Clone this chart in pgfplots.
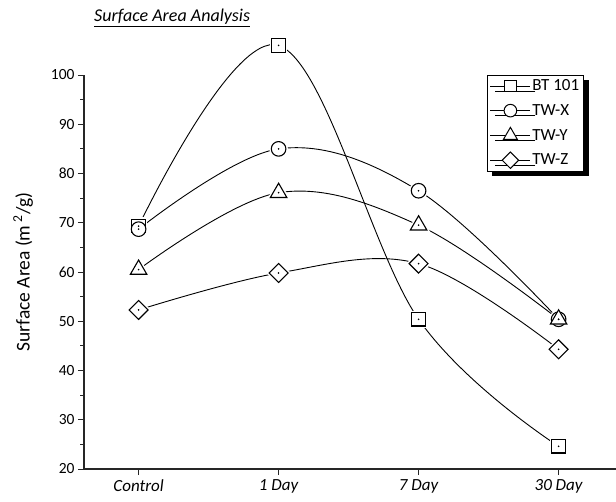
\documentclass[border=0pt]{standalone}
\usepackage{pgfplots}
\pgfplotsset{compat=1.18}
\usepackage{pgfplotstable}
\usepackage{fontspec}
\setmainfont{Carlito}
\usetikzlibrary{shadows}

\pgfplotstableread{
x y
0 69.3
1 106.0
2 50.4
3 24.6
}\btone
\pgfplotstableread{
x y
0 68.7
1 85.0
2 76.5
3 50.4
}\twx
\pgfplotstableread{
x y
0 60.5
1 76.1
2 69.5
3 50.4
}\twy
\pgfplotstableread{
x y
0 52.3
1 59.8
2 61.7
3 44.3
}\twz

\begin{document}
\begin{tikzpicture}[x=1pt,y=1pt]
\useasboundingbox (0,0) rectangle (616,501);
\begin{axis}[
  at={(84pt,32pt)}, anchor=south west,
  scale only axis, width=532pt, height=394pt,
  xmin=-0.39, xmax=3.41, ymin=20, ymax=100,
  clip=false,
  axis x line*=bottom, axis y line*=left,
  axis line style={line width=1.3pt, black!85, -},
  xtick={0,1,2,3},
  xticklabels={Control,1 Day,7 Day,30 Day},
  x tick label style={font=\fontsize{17}{19}\selectfont\itshape, yshift=-1pt},
  ytick={20,30,...,100},
  minor ytick={25,35,...,95},
  y tick label style={font=\fontsize{15.5}{17}\selectfont},
  /pgf/number format/assume math mode=true,
  tick align=outside,
  major tick length=6pt, minor tick length=3.5pt,
  tick style={line width=1pt, black!85},
  ylabel={Surface Area (m\,\textsuperscript{2}/g)},
  ylabel style={font=\fontsize{19.5}{21}\selectfont, yshift=11pt},
  legend style={at={(0.94,1.0)}, anchor=north east, draw=black, fill=white,
    line width=0.8pt, font=\fontsize{17}{19}\selectfont,
    row sep=9pt, inner sep=3pt,
    nodes={inner sep=1.5pt},
    drop shadow={fill=black, opacity=1, shadow xshift=5pt, shadow yshift=-5pt}},
  legend cell align=left,
  legend image code/.code={\draw[mark repeat=2,mark phase=2,#1] plot coordinates {(0pt,0pt)(20pt,0pt)(40pt,0pt)};},
]
% lines
\addplot[smooth, tension=0.6, black, line width=0.9pt, forget plot] table {\btone};
\addplot[smooth, tension=0.6, black, line width=0.9pt, forget plot] table {\twx};
\addplot[smooth, tension=0.6, black, line width=0.9pt, forget plot] table {\twy};
\addplot[smooth, tension=0.6, black, line width=0.9pt, forget plot] table {\twz};
% white halos for gaps
\addplot[only marks, mark=square*, mark size=6.7pt, mark options={draw=white, fill=white, line width=4pt}, forget plot] table {\btone};
\addplot[only marks, mark=*, mark size=7.3pt, mark options={draw=white, fill=white, line width=4pt}, forget plot] table {\twx};
\addplot[only marks, mark=triangle*, mark size=9.5pt, mark options={draw=white, fill=white, line width=4pt}, forget plot] table {\twy};
\addplot[only marks, mark=square*, mark size=6.7pt, mark options={rotate=45, draw=white, fill=white, line width=4pt}, forget plot] table {\twz};
% markers
\addplot[only marks, mark=square*, mark size=6.7pt, mark options={draw=black, fill=white, line width=1.1pt}, forget plot] table {\btone};
\addplot[only marks, mark=*, mark size=7.3pt, mark options={draw=black, fill=white, line width=1.1pt}, forget plot] table {\twx};
\addplot[only marks, mark=triangle*, mark size=9.5pt, mark options={draw=black, fill=white, line width=1.1pt}, forget plot] table {\twy};
\addplot[only marks, mark=square*, mark size=6.7pt, mark options={rotate=45, draw=black, fill=white, line width=1.1pt}, forget plot] table {\twz};
% center dots
\addplot[only marks, mark=*, mark size=0.6pt, black, forget plot] table {\btone};
\addplot[only marks, mark=*, mark size=0.6pt, black, forget plot] table {\twx};
\addplot[only marks, mark=*, mark size=0.6pt, black, forget plot] table {\twy};
\addplot[only marks, mark=*, mark size=0.6pt, black, forget plot] table {\twz};
% legend
\addlegendimage{black, line width=0.9pt, mark=square*, mark size=5.8pt, mark options={fill=white, line width=1pt}}
\addlegendentry{BT 101}
\addlegendimage{black, line width=0.9pt, mark=*, mark size=6.3pt, mark options={fill=white, line width=1pt}}
\addlegendentry{TW-X}
\addlegendimage{black, line width=0.9pt, mark=triangle*, mark size=8pt, mark options={fill=white, line width=1pt}}
\addlegendentry{TW-Y}
\addlegendimage{black, line width=0.9pt, mark=square*, mark size=5.8pt, mark options={rotate=45, fill=white, line width=1pt}}
\addlegendentry{TW-Z}
\end{axis}
\node[anchor=base west, inner sep=0pt, font=\fontsize{18}{20}\selectfont\itshape] at (94,479) {\underline{Surface Area Analysis}};
\end{tikzpicture}
\end{document}
